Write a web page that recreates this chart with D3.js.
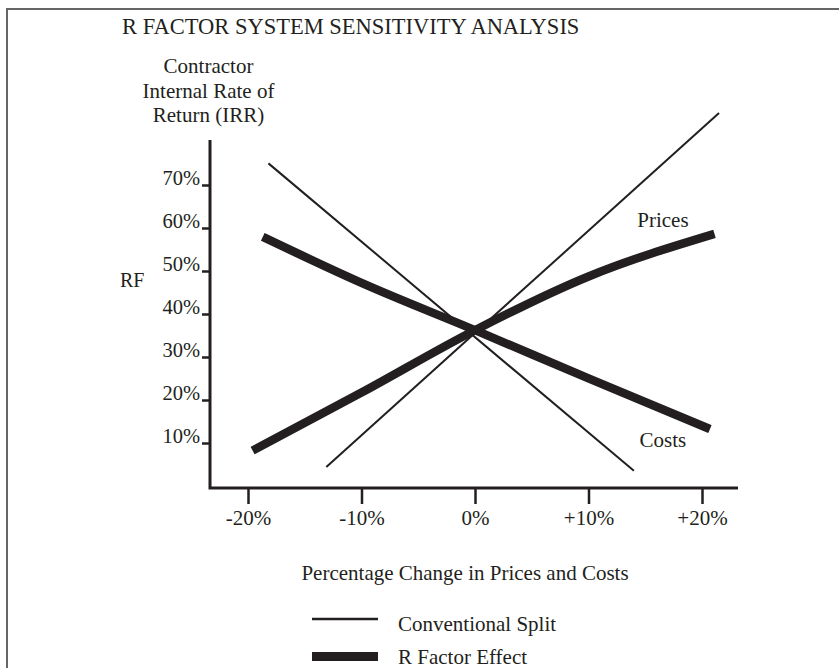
<!DOCTYPE html>
<html>
<head>
<meta charset="utf-8">
<script src="https://cdn.jsdelivr.net/npm/d3@7"></script>
<style>
  body { margin: 0; background: #fff; }
  svg text { font-family: 'Liberation Serif', 'Times New Roman', serif; fill: #231f20; }
</style>
</head>
<body>
<div id="chart"></div>
<script>
// axis ticks
const xTicks = [-20, -10, 0, 10, 20]
const yTicks = [10, 20, 30, 40, 50, 60, 70]

// conventional split (thin straight lines), [percent change, IRR %]
const conventionalPrices = [[-13.1, 4.2], [21.5, 86.5]]
const conventionalCosts = [[-18.2, 74.8], [14.0, 3.3]]

// R factor effect (thick lines)
const rFactorPrices = [[-19.6, 8], [-10, 21.5], [0, 36], [10, 48.5], [21.1, 58.4]]
const rFactorCosts = [[-18.7, 57.7], [-10, 47], [0, 36], [10, 24.8], [20.7, 13.0]]

const seriesLabels = [
  {text: 'Prices', x: 14.3, y: 60.0},
  {text: 'Costs', x: 14.5, y: 8.9}
]
const legendItems = ['Conventional Split', 'R Factor Effect']

const width = 839
const height = 668
const ink = '#231f20'

const axisLeftX = 210
const axisBottomY = 488

const x = d3.scaleLinear().domain([-20, 20]).range([248, 702])
const y = d3.scaleLinear().domain([0, 80]).range([485, 141])

const svg = d3.select('#chart').append('svg')
  .attr('width', width)
  .attr('height', height)

// frame (only top and left edges show)
svg.append('path')
  .attr('d', `M7,${height} V9 H${width}`)
  .attr('fill', 'none')
  .attr('stroke', '#666')
  .attr('stroke-width', 2)

svg.append('text')
  .attr('x', 122)
  .attr('y', 34)
  .style('font-size', '22.5px')
  .text('R FACTOR SYSTEM SENSITIVITY ANALYSIS')

// y axis title
const yTitle = svg.append('text')
  .attr('text-anchor', 'middle')
  .style('font-size', '21px')
;['Contractor', 'Internal Rate of', 'Return (IRR)'].forEach((line, i) => {
  yTitle.append('tspan')
    .attr('x', 208.5)
    .attr('y', 73 + i * 24.5)
    .text(line)
})

svg.append('text')
  .attr('x', 120)
  .attr('y', 287)
  .style('font-size', '20px')
  .text('RF')

// y axis
const yAxis = d3.axisLeft(y)
  .tickValues(yTicks)
  .tickSize(8)
  .tickPadding(2)
  .tickFormat(d => d + '%')

const gy = svg.append('g')
  .attr('transform', `translate(${axisLeftX},0)`)
  .call(yAxis)
gy.select('.domain').remove()
gy.selectAll('.tick line')
  .attr('stroke', ink)
  .attr('stroke-width', 2.5)
  .attr('transform', 'translate(0,1)')
gy.selectAll('.tick text')
  .attr('dy', 0)
  .attr('y', 0)
  .style('font-size', '20.5px')
  .style('font-family', "'Liberation Serif', serif")
  .attr('fill', ink)

// x axis
const xAxis = d3.axisBottom(x)
  .tickValues(xTicks)
  .tickSize(16)
  .tickPadding(6)
  .tickFormat(d => d > 0 ? '+' + d + '%' : d + '%')

const gx = svg.append('g')
  .attr('transform', `translate(0,${axisBottomY})`)
  .call(xAxis)
gx.select('.domain').remove()
gx.selectAll('.tick line')
  .attr('stroke', ink)
  .attr('stroke-width', 2.5)
gx.selectAll('.tick text')
  .style('font-size', '21px')
  .style('font-family', "'Liberation Serif', serif")
  .attr('fill', ink)

// axis lines
svg.append('path')
  .attr('d', `M${axisLeftX},140 V${axisBottomY} H738`)
  .attr('fill', 'none')
  .attr('stroke', ink)
  .attr('stroke-width', 3)

const line = d3.line()
  .x(d => x(d[0]))
  .y(d => y(d[1]))

const curve = d3.line()
  .x(d => x(d[0]))
  .y(d => y(d[1]))
  .curve(d3.curveMonotoneX)

// thin lines
;[conventionalPrices, conventionalCosts].forEach(data => {
  svg.append('path')
    .datum(data)
    .attr('d', line)
    .attr('fill', 'none')
    .attr('stroke', ink)
    .attr('stroke-width', 2)
})

// thick lines
;[rFactorPrices, rFactorCosts].forEach(data => {
  svg.append('path')
    .datum(data)
    .attr('d', curve)
    .attr('fill', 'none')
    .attr('stroke', ink)
    .attr('stroke-width', 8.5)
    .attr('stroke-linecap', 'butt')
})

svg.selectAll('.series-label')
  .data(seriesLabels)
  .enter()
  .append('text')
  .attr('class', 'series-label')
  .attr('x', d => x(d.x))
  .attr('y', d => y(d.y))
  .style('font-size', '21px')
  .text(d => d.text)

svg.append('text')
  .attr('x', 465)
  .attr('y', 580)
  .attr('text-anchor', 'middle')
  .style('font-size', '21px')
  .text('Percentage Change in Prices and Costs')

// legend
const legend = svg.append('g')
  .attr('transform', 'translate(312,619)')

legend.append('line')
  .attr('x1', 0).attr('x2', 66)
  .attr('y1', 0).attr('y2', 0)
  .attr('stroke', ink)
  .attr('stroke-width', 2.5)

legend.append('rect')
  .attr('x', 0).attr('y', 33)
  .attr('width', 66).attr('height', 9)
  .attr('fill', ink)

legend.selectAll('.legend-text')
  .data(legendItems)
  .enter()
  .append('text')
  .attr('class', 'legend-text')
  .attr('x', 86)
  .attr('y', (d, i) => 12 + i * 33)
  .style('font-size', '21px')
  .text(d => d)
</script>
</body>
</html>
